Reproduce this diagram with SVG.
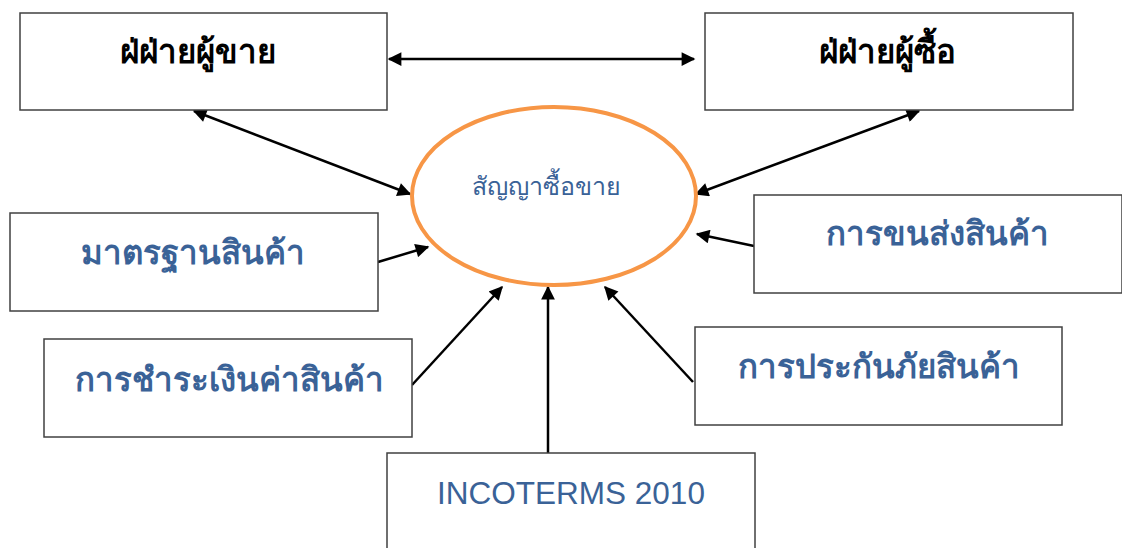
<svg xmlns="http://www.w3.org/2000/svg" width="1122" height="548" viewBox="0 0 1122 548">
<defs>
<style>
.box{fill:#fff;stroke:#404040;stroke-width:1.5}
.th{font-family:"Noto Sans","Liberation Sans","Noto Sans CJK SC",sans-serif;font-weight:bold;font-size:33px;text-anchor:middle}
.blk{fill:#000}
.blu{fill:#3A6297}
.con{stroke:#000;stroke-width:2.5;fill:none}
</style>
<marker id="ah" viewBox="0 0 10 10" refX="9" refY="5" markerWidth="6.5" markerHeight="5.5" markerUnits="strokeWidth" orient="auto-start-reverse">
<path d="M0,0 L10,5 L0,10 Z" fill="#000"/>
</marker>
</defs>
<rect width="1122" height="548" fill="#fff"/>
<g id="connectors">
<line class="con" x1="389" y1="59" x2="694" y2="59" marker-start="url(#ah)" marker-end="url(#ah)"/>
<line class="con" x1="194" y1="111" x2="410" y2="194" marker-start="url(#ah)" marker-end="url(#ah)"/>
<line class="con" x1="919" y1="111" x2="696" y2="194" marker-start="url(#ah)" marker-end="url(#ah)"/>
<line class="con" x1="378" y1="262" x2="428" y2="247" marker-end="url(#ah)"/>
<line class="con" x1="754" y1="246" x2="697" y2="234" marker-end="url(#ah)"/>
<line class="con" x1="412" y1="385" x2="502" y2="287" marker-end="url(#ah)"/>
<line class="con" x1="548" y1="453" x2="548" y2="287" marker-end="url(#ah)"/>
<line class="con" x1="693" y1="382" x2="605" y2="287" marker-end="url(#ah)"/>
</g>
<g id="seller">
<rect class="box" x="20" y="13" width="367" height="97"/>
<text class="th blk" x="198" y="63">ฝ่ฝ่ายผู้ขาย</text>
</g>
<g id="buyer">
<rect class="box" x="705" y="13" width="368" height="97"/>
<text class="th blk" x="887" y="63">ฝ่ฝ่ายผู้ซื้อ</text>
</g>
<g id="contract">
<ellipse cx="554" cy="196" rx="142" ry="89" fill="#fff" stroke="#F79646" stroke-width="4"/>
<text x="546" y="195" font-family="Noto Sans, Liberation Sans, sans-serif" font-size="25" fill="#3A6297" text-anchor="middle">สัญญาซื้อขาย</text>
</g>
<g id="standard">
<rect class="box" x="10" y="213" width="368" height="98"/>
<text class="th blu" x="193" y="264">มาตรฐานสินค้า</text>
</g>
<g id="shipping">
<rect class="box" x="754" y="195" width="368" height="98"/>
<text class="th blu" x="937" y="245">การขนส่งสินค้า</text>
</g>
<g id="payment">
<rect class="box" x="44" y="339" width="368" height="98"/>
<text class="th blu" x="229" y="391">การชำระเงินค่าสินค้า</text>
</g>
<g id="insurance">
<rect class="box" x="695" y="327" width="367" height="98"/>
<text class="th blu" x="879" y="378">การประกันภัยสินค้า</text>
</g>
<g id="incoterms">
<rect class="box" x="387" y="453" width="368" height="100"/>
<text x="571" y="504" font-family="Liberation Sans, Arial, sans-serif" font-size="31.5" fill="#3A6297" text-anchor="middle">INCOTERMS 2010</text>
</g>
</svg>
